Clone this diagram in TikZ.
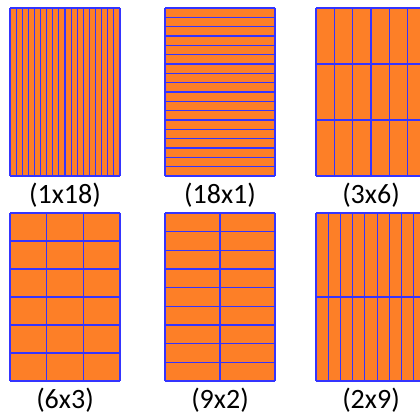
\documentclass[tikz,border=0pt]{standalone}
\usepackage{fontspec}
\setmainfont{Carlito}
\definecolor{boxorange}{RGB}{253,127,39}
\definecolor{gridblue}{RGB}{52,52,255}
\tikzset{
  gridline/.style={draw=gridblue, line width=0.8pt},
  dimlabel/.style={font=\fontsize{21}{25}\selectfont, inner sep=0pt}
}
% one partitioned block: x, y, rows, cols, label, name
\newcommand{\gridbox}[6]{%
  \fill[boxorange] (#1,#2) rectangle ++(110,168);
  \foreach \i in {0,...,#3} \draw[gridline] (#1,#2+\i*168/#3) -- ++(110,0);
  \foreach \j in {0,...,#4} \draw[gridline] (#1+\j*110/#4,#2) -- ++(0,168);
  \node[dimlabel] (#6) at (#1+55,#2+187) {(#5)};
}
\begin{document}
\begin{tikzpicture}[x=0.75pt, y=-0.75pt]
  \useasboundingbox (0,0) rectangle (420,416);
  \fill[white] (0,0) rectangle (420,416);
  \clip (0,0) rectangle (420,416);

  % top row
  \gridbox{10}{8}{1}{18}{1x18}{lab1}
  \gridbox{165}{8}{18}{1}{18x1}{lab2}
  \gridbox{316}{8}{3}{6}{3x6}{lab3}

  % bottom row
  \gridbox{10}{213}{6}{3}{6x3}{lab4}
  \gridbox{165}{213}{9}{2}{9x2}{lab5}
  \gridbox{316}{213}{2}{9}{2x9}{lab6}
\end{tikzpicture}
\end{document}
